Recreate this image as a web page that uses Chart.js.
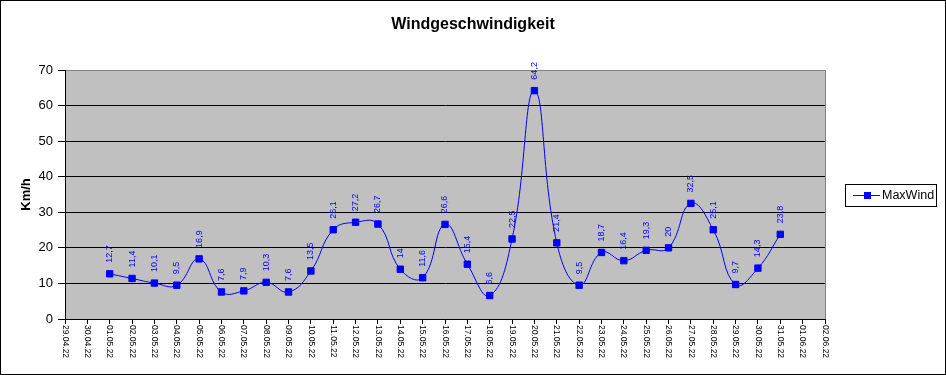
<!DOCTYPE html>
<html>
<head>
<meta charset="utf-8">
<script src="https://cdn.jsdelivr.net/npm/chart.js@4"></script>
<style>
  html, body { margin: 0; padding: 0; background: #fff; }
  #wrap { width: 946px; height: 375px; position: relative; }
</style>
</head>
<body>
<div id="wrap"><canvas id="windChart" width="946" height="375"></canvas></div>
<script>
var chartTitle = 'Windgeschwindigkeit';

// Tage (x-Achse)
var days = ['29.04.22', '30.04.22', '01.05.22', '02.05.22', '03.05.22', '04.05.22', '05.05.22',
    '06.05.22', '07.05.22', '08.05.22', '09.05.22', '10.05.22', '11.05.22', '12.05.22',
    '13.05.22', '14.05.22', '15.05.22', '16.05.22', '17.05.22', '18.05.22', '19.05.22',
    '20.05.22', '21.05.22', '22.05.22', '23.05.22', '24.05.22', '25.05.22', '26.05.22',
    '27.05.22', '28.05.22', '29.05.22', '30.05.22', '31.05.22', '01.06.22', '02.06.22'];

// MaxWind in km/h
var maxWind = [null, null, 12.7, 11.4, 10.1, 9.5, 16.9,
    7.6, 7.9, 10.3, 7.6, 13.5, 25.1, 27.2,
    26.7, 14, 11.6, 26.6, 15.4, 6.6, 22.5,
    64.2, 21.4, 9.5, 18.7, 16.4, 19.3, 20,
    32.5, 25.1, 9.7, 14.3, 23.8, null, null];

var yTicks = [0, 10, 20, 30, 40, 50, 60, 70];

var FONT = 'Arial, "Liberation Sans", sans-serif';
var BLUE = '#0000FF';

// Hintergrund der Zeichenfläche, Rahmen, Titel
var plotBg = {
    id: 'plotBg',
    beforeDraw: function(chart) {
        var ctx = chart.ctx, a = chart.chartArea;
        ctx.save();
        ctx.fillStyle = '#fff';
        ctx.fillRect(0, 0, chart.width, chart.height);
        ctx.fillStyle = '#C0C0C0';
        ctx.fillRect(a.left, a.top, a.right - a.left, a.bottom - a.top);
        ctx.strokeStyle = '#808080';
        ctx.lineWidth = 1;
        ctx.beginPath();
        ctx.moveTo(a.left, a.top + 0.5);
        ctx.lineTo(a.right + 0.5, a.top + 0.5);
        ctx.lineTo(a.right + 0.5, a.bottom);
        ctx.stroke();
        ctx.restore();
    },
    afterDraw: function(chart) {
        var ctx = chart.ctx;
        ctx.save();
        ctx.strokeStyle = '#000';
        ctx.lineWidth = 1;
        ctx.strokeRect(0.5, 0.5, chart.width - 1, chart.height - 1);
        // Titel über die ganze Breite zentriert
        ctx.fillStyle = '#000';
        ctx.font = 'bold 16px ' + FONT;
        ctx.textAlign = 'center';
        ctx.textBaseline = 'middle';
        ctx.fillText(chartTitle, chart.width / 2, 25);
        ctx.restore();
    }
};

// Datumsbeschriftung, von oben nach unten gelesen
var dayLabels = {
    id: 'dayLabels',
    afterDraw: function(chart) {
        var ctx = chart.ctx, xs = chart.scales.x;
        ctx.save();
        ctx.font = '8.5px ' + FONT;
        ctx.fillStyle = '#000';
        ctx.textAlign = 'left';
        ctx.textBaseline = 'middle';
        days.forEach(function(d, i) {
            var x = xs.getPixelForValue(i);
            ctx.save();
            ctx.translate(x, chart.chartArea.bottom + 6);
            ctx.rotate(Math.PI / 2);
            ctx.fillText(d, 0, 0);
            ctx.restore();
        });
        ctx.restore();
    }
};

// Werte an den Punkten (senkrecht)
var valueLabels = {
    id: 'valueLabels',
    afterDatasetsDraw: function(chart) {
        var ctx = chart.ctx;
        var meta = chart.getDatasetMeta(0);
        ctx.save();
        ctx.font = '9px ' + FONT;
        ctx.fillStyle = BLUE;
        ctx.textAlign = 'left';
        ctx.textBaseline = 'middle';
        meta.data.forEach(function(pt, i) {
            var v = maxWind[i];
            if (v === null) return;
            ctx.save();
            ctx.translate(pt.x, pt.y - 11);
            ctx.rotate(-Math.PI / 2);
            ctx.fillText(String(v).replace('.', ','), 0, 0);
            ctx.restore();
        });
        ctx.restore();
    }
};

// Legende mit Rahmen rechts
var boxLegend = {
    id: 'boxLegend',
    afterDraw: function(chart) {
        var ctx = chart.ctx;
        var ds = chart.data.datasets[0];
        var bx = 845, by = 184, bw = 91, bh = 22, cy = by + bh / 2;
        ctx.save();
        ctx.strokeStyle = '#000';
        ctx.lineWidth = 1;
        ctx.strokeRect(bx + 0.5, by + 0.5, bw, bh);
        ctx.strokeStyle = ds.borderColor;
        ctx.beginPath();
        ctx.moveTo(853, cy + 0.5);
        ctx.lineTo(880, cy + 0.5);
        ctx.stroke();
        ctx.fillStyle = ds.pointBackgroundColor;
        ctx.fillRect(864, cy - 3, 7, 7);
        ctx.fillStyle = '#000';
        ctx.font = '12.5px ' + FONT;
        ctx.textAlign = 'left';
        ctx.textBaseline = 'middle';
        ctx.fillText(ds.label, 882, cy + 1);
        ctx.restore();
    }
};

var ctx = document.getElementById('windChart').getContext('2d');
new Chart(ctx, {
    type: 'line',
    data: {
        labels: days,
        datasets: [{
            label: 'MaxWind',
            data: maxWind,
            borderColor: BLUE,
            backgroundColor: BLUE,
            pointBackgroundColor: BLUE,
            pointBorderColor: BLUE,
            borderWidth: 1,
            pointStyle: 'rect',
            pointRadius: 4.5,
            pointBorderWidth: 1,
            tension: 0.45,
            spanGaps: false
        }]
    },
    options: {
        responsive: false,
        animation: false,
        layout: { padding: { left: 0, right: 121, top: 70, bottom: 0 } },
        plugins: {
            legend: { display: false },
            tooltip: { enabled: false },
            title: { display: false }
        },
        scales: {
            x: {
                type: 'category',
                offset: false,
                afterFit: function(s) { s.height = 56; },
                ticks: { display: false, autoSkip: false },
                grid: {
                    display: true,
                    drawOnChartArea: false,
                    drawTicks: true,
                    tickLength: 5,
                    color: '#000',
                    tickColor: '#000'
                },
                border: { display: true, color: '#000', width: 1 }
            },
            y: {
                min: 0,
                max: 70,
                afterFit: function(s) { s.width = 65; },
                afterBuildTicks: function(s) {
                    s.ticks = yTicks.map(function(v) { return { value: v }; });
                },
                ticks: {
                    color: '#000',
                    padding: 5,
                    font: { family: FONT, size: 13 }
                },
                grid: {
                    color: function(c) { return c.tick && c.tick.value === 70 ? '#808080' : '#000'; },
                    tickColor: '#000',
                    tickLength: 7,
                    lineWidth: 1
                },
                border: { display: true, color: '#000', width: 1 },
                title: {
                    display: true,
                    text: 'Km/h',
                    color: '#000',
                    font: { family: FONT, size: 13, weight: 'bold' },
                    padding: { top: 19, bottom: 0 }
                }
            }
        }
    },
    plugins: [plotBg, dayLabels, valueLabels, boxLegend]
});
</script>
</body>
</html>
